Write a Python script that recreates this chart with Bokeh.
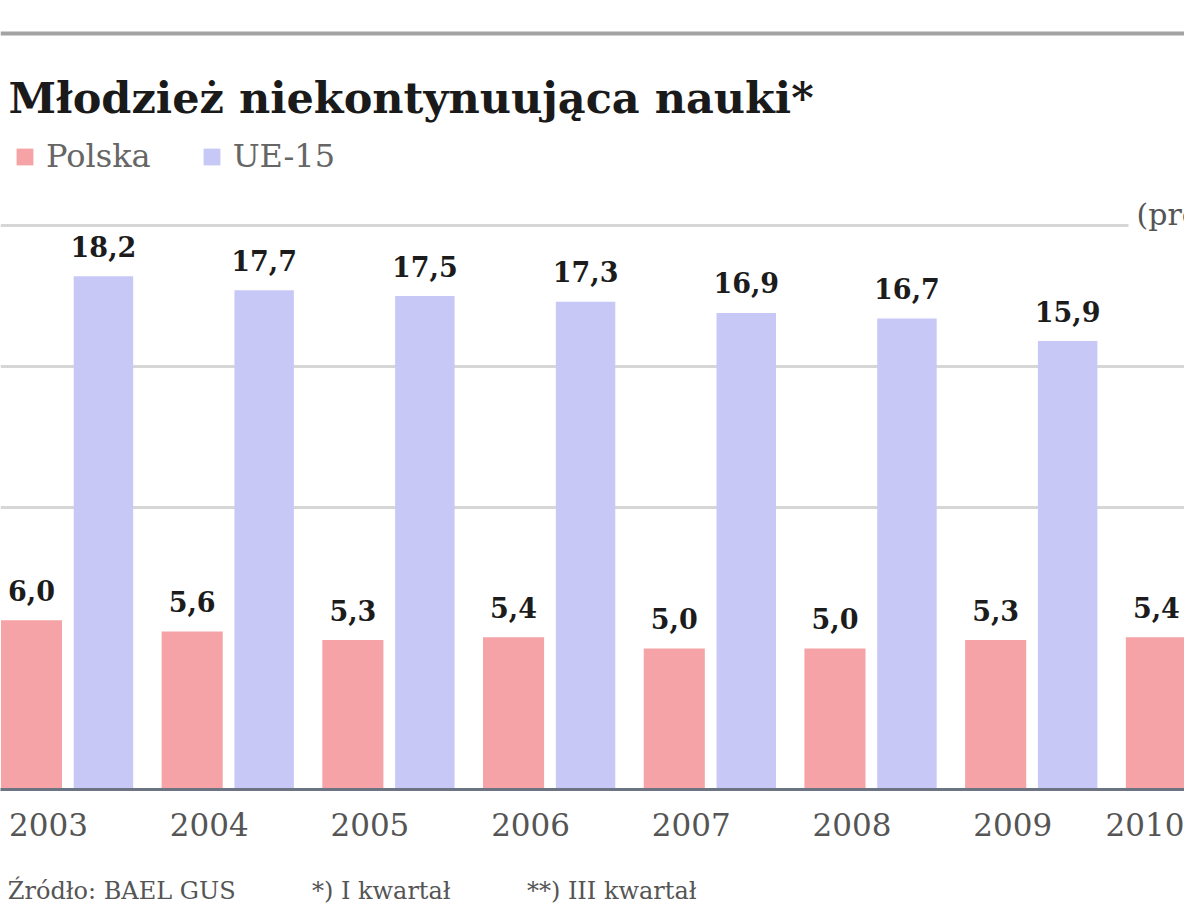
from bokeh.plotting import figure
from bokeh.models import (ColumnDataSource, Range1d, FixedTicker, Label, Span,
                          Legend, LegendItem)
from bokeh.transform import dodge
from bokeh.core.properties import value
from bokeh.embed import file_html
from bokeh.resources import INLINE

# ---- data ----
years = ["2003", "2004", "2005", "2006", "2007", "2008", "2009", "2010"]
polska = [6.0, 5.6, 5.3, 5.4, 5.0, 5.0, 5.3, 5.4]
ue15 = [18.2, 17.7, 17.5, 17.3, 16.9, 16.7, 15.9, 15.7]
grid_vals = [10, 15, 20]
series_names = ["Polska", "UE-15"]
title_text = "Młodzież niekontynuująca nauki*"
unit_text = "(proc.)"
footer_texts = ["Źródło: BAEL GUS", "*) I kwartał", "**) III kwartał"]

# ---- geometry (figure pixels) ----
W, H = 1184, 907
SX = 160.7          # px per category
SY = 28.2           # px per percentage point
BASE = 789          # y of zero line
X0 = -48 / SX
X1 = X0 + W / SX
Y1 = BASE / SY


def ux(px):
    return X0 + px / SX


def uy(py):
    return (BASE - py) / SY


def fmt(v):
    return f"{v:.1f}".replace(".", ",")


src = ColumnDataSource(dict(
    idx=list(range(len(years))),
    pl=polska,
    eu=ue15,
    pl_lbl=[fmt(v) for v in polska],
    eu_lbl=[fmt(v) for v in ue15],
))

PINK = "#f5a3a6"
BLUE = "#c8c8f7"
SERIF = "DejaVu Serif"
NB = "\u00a0"

p = figure(width=W, height=H, output_backend="svg", toolbar_location=None,
           x_range=Range1d(X0, X1), y_range=Range1d(0, Y1),
           y_axis_location=None, min_border_left=0, min_border_right=0,
           min_border_top=0, min_border_bottom=H - BASE)
p.outline_line_color = None
p.background_fill_color = "white"
p.border_fill_color = "white"

# grid
p.xgrid.visible = False
p.ygrid.ticker = FixedTicker(ticks=grid_vals)
p.ygrid.grid_line_color = "#d6d6d6"
p.ygrid.grid_line_width = 3

# top rule
p.add_layout(Span(location=uy(33), dimension="width", line_color="#a3a3a3", line_width=4))

# bars
r_pl = p.vbar(x=dodge("idx", -0.106, range=p.x_range), top="pl", width=0.38,
              source=src, fill_color=PINK, line_color=None)
r_eu = p.vbar(x=dodge("idx", 0.342, range=p.x_range), top="eu", width=0.37,
              source=src, fill_color=BLUE, line_color=None)

# value labels
for col, lbl, off in (("pl", "pl_lbl", -0.106), ("eu", "eu_lbl", 0.342)):
    p.text(x=dodge("idx", off, range=p.x_range), y=col, text=lbl, source=src,
           text_align="center", text_baseline="middle", y_offset=-30,
           text_font=value(SERIF), text_font_style="bold",
           text_font_size="27px", text_color="#1c1c1c")

# x axis
ax = p.xaxis[0]
ax.ticker = FixedTicker(ticks=list(range(len(years))))
ax.major_label_overrides = {i: y for i, y in enumerate(years)}
ax.major_tick_line_color = None
ax.minor_tick_line_color = None
ax.axis_line_color = "#6c7383"
ax.axis_line_width = 3
ax.major_label_standoff = 17
ax.major_label_text_font = SERIF
ax.major_label_text_font_size = "31px"
ax.major_label_text_color = "#555555"

# footer as the (centred) axis label, padded on the right so it starts at the left edge
footer = (NB * 10).join(footer_texts[:2]) + NB * 10 + footer_texts[2] + NB * 63
ax.axis_label = footer
ax.axis_label_standoff = 38
ax.axis_label_text_font = SERIF
ax.axis_label_text_font_size = "24px"
ax.axis_label_text_font_style = "normal"
ax.axis_label_text_color = "#555555"

# legend
legend = Legend(items=[LegendItem(label=series_names[0], renderers=[r_pl]),
                       LegendItem(label=series_names[1], renderers=[r_eu])],
                orientation="horizontal", location=(14, 614),
                glyph_width=21, glyph_height=21, label_standoff=11, spacing=50,
                padding=0, margin=0, border_line_color=None,
                background_fill_alpha=0,
                label_text_font=SERIF, label_text_font_size="32px",
                label_text_color="#666666")
p.add_layout(legend)

# title
p.add_layout(Label(x=ux(8), y=uy(97), text=title_text, text_baseline="middle",
                   text_font=SERIF, text_font_style="bold", text_font_size="43px",
                   text_color="#1a1a1a"))

# unit label (covers end of top gridline)
p.add_layout(Label(x=ux(1128), y=uy(214), text=unit_text, text_baseline="middle",
                   text_font=SERIF, text_font_size="30px", text_color="#555555",
                   background_fill_color="white", padding=8))

open("out.html", "w").write(file_html(p, INLINE))
